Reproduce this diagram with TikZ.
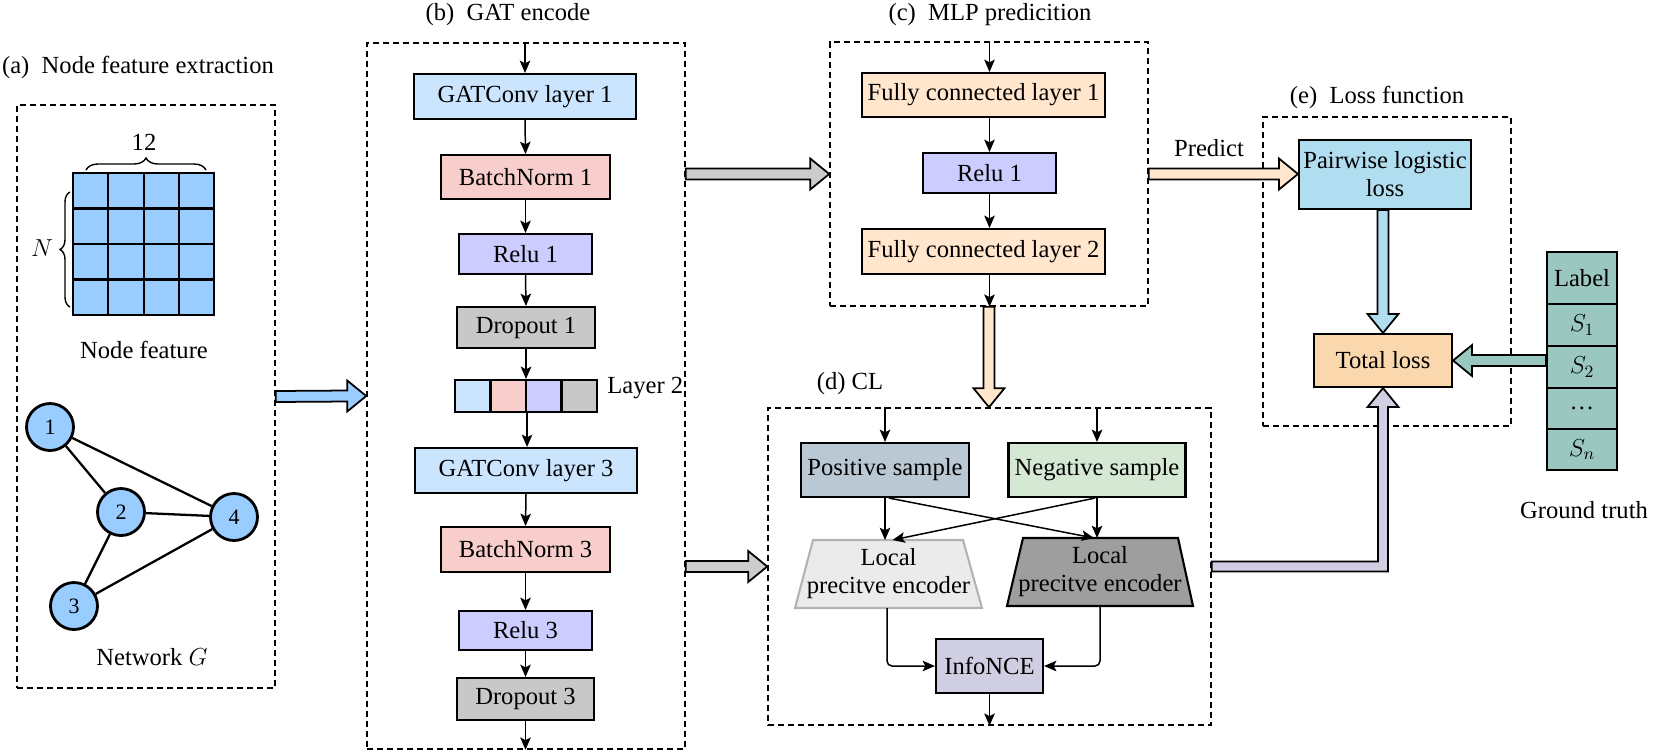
\RequirePackage{fix-cm}
\documentclass[tikz,border=0pt]{standalone}
\usepackage{fontspec}
\setmainfont{Liberation Serif}
\usetikzlibrary{arrows.meta,calc,decorations.pathreplacing}
\newdimen\pxu \pxu=0.02cm
\definecolor{cGat}{HTML}{CCE5FF}
\definecolor{cBn}{HTML}{F8CECC}
\definecolor{cRelu}{HTML}{CCCCFF}
\definecolor{cDrop}{HTML}{C8C8C8}
\definecolor{cFc}{HTML}{FFE6CC}
\definecolor{cNode}{HTML}{99CCFF}
\definecolor{cPw}{HTML}{B1DDF0}
\definecolor{cTot}{HTML}{FAD7AC}
\definecolor{cLab}{HTML}{9AC7BF}
\definecolor{cInfo}{HTML}{D0CEE2}
\definecolor{cPos}{HTML}{BAC8D3}
\definecolor{cNeg}{HTML}{D5E8D4}
\definecolor{cLt}{HTML}{EBEBEB}
\definecolor{cLtB}{HTML}{B3B3B3}
\definecolor{cDk}{HTML}{9E9E9E}
\definecolor{cGrayA}{HTML}{CCCCCC}
\tikzset{
  blk/.style={draw, line width=1.2pt, inner sep=0pt, align=center},
  cell/.style={draw, line width=1.2pt, inner sep=0pt, fill=cNode},
  dbox/.style={draw, line width=0.9pt, dash pattern=on 0.12cm off 0.08cm, inner sep=0pt},
  arr/.style={draw, line width=0.85pt, -{Stealth[length=7pt,width=6pt,inset=1.5pt]}},
  fat/.style={draw, line width=1pt, line join=miter},
  gnode/.style={circle, draw, line width=1.6pt, fill=cNode, minimum size=47\pxu, inner sep=0pt, font=\fontsize{12.5pt}{14pt}\selectfont},
  edge/.style={line width=1.3pt},
  brc/.style={line width=0.8pt, decorate},
  txt/.style={inner sep=0pt, anchor=base},
}
% fat arrows: start, end, colour
\newcommand\fatR[3]{\draw[fat,fill=#3] ($(#1)+(0,-5.5)$) -- ($(#2)+(-19,-5.5)$) -- ($(#2)+(-19,-15.5)$) -- (#2) -- ($(#2)+(-19,15.5)$) -- ($(#2)+(-19,5.5)$) -- ($(#1)+(0,5.5)$) -- cycle;}
\newcommand\fatL[3]{\draw[fat,fill=#3] ($(#1)+(0,-5.5)$) -- ($(#2)+(19,-5.5)$) -- ($(#2)+(19,-15.5)$) -- (#2) -- ($(#2)+(19,15.5)$) -- ($(#2)+(19,5.5)$) -- ($(#1)+(0,5.5)$) -- cycle;}
\newcommand\fatD[3]{\draw[fat,fill=#3] ($(#1)+(-5.5,0)$) -- ($(#2)+(-5.5,-19)$) -- ($(#2)+(-15.5,-19)$) -- (#2) -- ($(#2)+(15.5,-19)$) -- ($(#2)+(5.5,-19)$) -- ($(#1)+(5.5,0)$) -- cycle;}
\begin{document}
\begin{tikzpicture}[x=0.02cm, y=-0.02cm, font=\fontsize{14pt}{16pt}\selectfont]
\useasboundingbox (0,0) rectangle (1656,752);

% ---------------- (a)
\node[dbox, minimum width=258\pxu, minimum height=583\pxu] (boxa) at (146,396.5) {};
\node[txt] (ta) at (138,73) {(a)~~Node feature extraction};
\foreach \i in {0,...,3}{\foreach \j in {0,...,3}{
  \node[cell, minimum width=35.3\pxu, minimum height=35.5\pxu] (g\i\j) at ({90.65+35.3*\i},{190.75+35.5*\j}) {};}}
\draw[brc, decoration={brace, amplitude=12\pxu}] (86,170) -- (206,170);
\node[txt] (t12) at (144,150) {12};
\draw[brc, decoration={brace, amplitude=10\pxu}] (70,307) -- (70,192);
\node[txt] (tN) at (42,256) {$N$};
\node[txt] (tnf) at (144,358) {Node feature};
\node[gnode] (n1) at (50,427) {1};
\node[gnode] (n2) at (121,512) {2};
\node[gnode] (n4) at (234,517) {4};
\node[gnode] (n3) at (74,606) {3};
\draw[edge] (n1) -- (n2);
\draw[edge] (n1) -- (n4);
\draw[edge] (n2) -- (n4);
\draw[edge] (n2) -- (n3);
\draw[edge] (n3) -- (n4);
\node[txt] (tng) at (152,665) {Network $G$};

% ---------------- (b)
\node[dbox, minimum width=318\pxu, minimum height=706\pxu] (boxb) at (526,396) {};
\node[txt] (tb) at (508,20) {(b)~~GAT encode};
\node[blk, fill=cGat, minimum width=222\pxu, minimum height=45\pxu] (gat1) at (525,96.5) {GATConv layer 1};
\node[blk, fill=cBn, minimum width=169\pxu, minimum height=44\pxu] (bn1) at (525.5,177) {BatchNorm 1};
\node[blk, fill=cRelu, minimum width=133\pxu, minimum height=40\pxu] (relu1) at (525.5,254) {Relu 1};
\node[blk, fill=cDrop, minimum width=138\pxu, minimum height=41\pxu] (drop1) at (526,327.5) {Dropout 1};
\node[blk, fill=cGat, minimum width=35.5\pxu, minimum height=32\pxu] (s1) at (472.75,396) {};
\node[blk, fill=cBn, minimum width=35.5\pxu, minimum height=32\pxu] (s2) at (508.25,396) {};
\node[blk, fill=cRelu, minimum width=35.5\pxu, minimum height=32\pxu] (s3) at (543.75,396) {};
\node[blk, fill=cDrop, minimum width=35.5\pxu, minimum height=32\pxu] (s4) at (579.25,396) {};
\node[txt, anchor=base west] (tl2) at (607,393) {Layer 2};
\node[blk, fill=cGat, minimum width=222\pxu, minimum height=45\pxu] (gat3) at (526,470.5) {GATConv layer 3};
\node[blk, fill=cBn, minimum width=169\pxu, minimum height=45\pxu] (bn3) at (525.5,549.5) {BatchNorm 3};
\node[blk, fill=cRelu, minimum width=133\pxu, minimum height=39\pxu] (relu3) at (525.5,630.5) {Relu 3};
\node[blk, fill=cDrop, minimum width=137\pxu, minimum height=42\pxu] (drop3) at (525.5,699) {Dropout 3};
\draw[arr] (gat1.north |- boxb.north) -- (gat1.north);
\draw[arr] (gat1.south) -- (bn1.north);
\draw[arr] (bn1.south) -- (relu1.north);
\draw[arr] (relu1.south) -- (drop1.north);
\draw[arr] (drop1.south) -- (drop1.south |- s3.north);
\draw[arr] (s2.south east) -- (s2.south east |- gat3.north);
\draw[arr] (gat3.south) -- (bn3.north);
\draw[arr] (bn3.south) -- (relu3.north);
\draw[arr] (relu3.south) -- (drop3.north);
\draw[arr] (drop3.south) -- (drop3.south |- boxb.south);

% ---------------- (c)
\node[dbox, minimum width=318\pxu, minimum height=264\pxu] (boxc) at (989,174) {};
\node[txt] (tc) at (990,20) {(c)~~MLP predicition};
\node[blk, fill=cFc, minimum width=243\pxu, minimum height=44\pxu] (fc1) at (983.5,95) {Fully connected layer 1};
\node[blk, fill=cRelu, minimum width=133\pxu, minimum height=40\pxu] (reluc) at (989.5,173) {Relu 1};
\node[blk, fill=cFc, minimum width=243\pxu, minimum height=45\pxu] (fc2) at (983.5,251.5) {Fully connected layer 2};
\draw[arr] (reluc.north |- boxc.north) -- (reluc.north |- fc1.north);
\draw[arr] (reluc.north |- fc1.south) -- (reluc.north);
\draw[arr] (reluc.south) -- (reluc.south |- fc2.north);
\draw[arr] (reluc.south |- fc2.south) -- (reluc.south |- boxc.south);
\node[txt] (tpred) at (1209,156) {Predict};

% ---------------- (d)
\node[dbox, minimum width=443\pxu, minimum height=317\pxu] (boxd) at (989.5,566.5) {};
\node[txt] (td) at (850,389) {(d) CL};
\node[blk, fill=cPos, minimum width=168\pxu, minimum height=54\pxu] (pos) at (885,470) {Positive sample};
\node[blk, fill=cNeg, minimum width=177\pxu, minimum height=54\pxu] (neg) at (1097,470) {Negative sample};
\draw[line width=1.2pt, draw=cLtB, fill=cLt] (795,608) -- (982,608) -- (963,540) -- (813,540) -- cycle;
\draw[line width=1.2pt, fill=cDk] (1007,606) -- (1193,606) -- (1178,538) -- (1023,538) -- cycle;
\node[inner sep=0pt, align=center] (ltrap) at (888.5,574) {Local\\precitve encoder};
\node[inner sep=0pt, align=center] (rtrap) at (1100,572) {Local\\precitve encoder};
\coordinate (ltTop) at (888.5,540);
\coordinate (ltBot) at (887,608);
\coordinate (rtTop) at (1100,538);
\coordinate (rtBot) at (1100,606);
\node[blk, fill=cInfo, minimum width=107\pxu, minimum height=54\pxu] (info) at (989.5,666) {InfoNCE};
\draw[arr] (pos.north |- boxd.north) -- (pos.north);
\draw[arr] (neg.north |- boxd.north) -- (neg.north);
\draw[arr] (pos.south) -- (pos.south |- ltTop);
\draw[arr] (neg.south) -- (neg.south |- rtTop);
\draw[arr] ($(pos.south)+(4,0)$) -- ($(rtTop)+(-6,0)$);
\draw[arr] ($(neg.south)+(-2,0)$) -- ($(ltTop)+(4,0)$);
\draw[arr, rounded corners=0.1cm] (ltBot) |- (info.west);
\draw[arr, rounded corners=0.1cm] (rtBot) |- (info.east);
\draw[arr] (info.south) -- (info.south |- boxd.south);

% ---------------- (e)
\node[dbox, minimum width=248\pxu, minimum height=309\pxu] (boxe) at (1387,271.5) {};
\node[txt] (te) at (1377,103) {(e)~~Loss function};
\node[blk, fill=cPw, minimum width=172\pxu, minimum height=69\pxu] (pw) at (1385,174.5) {Pairwise logistic\\loss};
\node[blk, fill=cTot, minimum width=138\pxu, minimum height=53\pxu] (tot) at (1383,360.5) {Total loss};

% ground truth column
\node[blk, fill=cLab, minimum width=70\pxu, minimum height=52\pxu] (lab0) at (1582,278) {Label};
\node[blk, fill=cLab, minimum width=70\pxu, minimum height=42\pxu] (lab1) at (1582,325) {$S_1$};
\node[blk, fill=cLab, minimum width=70\pxu, minimum height=42\pxu] (lab2) at (1582,367) {$S_2$};
\node[blk, fill=cLab, minimum width=70\pxu, minimum height=41\pxu] (lab3) at (1582,408.5) {\dots};
\node[blk, fill=cLab, minimum width=70\pxu, minimum height=41\pxu] (lab4) at (1582,449.5) {$S_n$};
\node[txt] (tgt) at (1584,518) {Ground truth};

% ---------------- fat arrows
\fatR{boxa.east}{boxb.west}{cNode}
\fatR{boxb.east|-boxc.west}{boxc.west}{cGrayA}
\fatR{boxb.east|-boxd.west}{boxd.west}{cGrayA}
\fatR{boxc.east}{pw.west|-boxc.east}{cFc}
\fatD{boxc.south}{boxc.south|-boxd.north}{cFc}
\fatD{tot.north|-pw.south}{tot.north}{cPw}
\fatL{tot.east-|lab2.west}{tot.east}{cLab}
\draw[fat, fill=cInfo] ($(boxd.east)+(0,-5)$) -- ($(boxd.east -| tot.south)+(-5,-5)$) -- ($(tot.south)+(-5,19)$) -- ($(tot.south)+(-15.5,19)$) -- (tot.south) -- ($(tot.south)+(15.5,19)$) -- ($(tot.south)+(5,19)$) -- ($(boxd.east -| tot.south)+(5,5)$) -- ($(boxd.east)+(0,5)$) -- cycle;
\end{tikzpicture}
\end{document}
